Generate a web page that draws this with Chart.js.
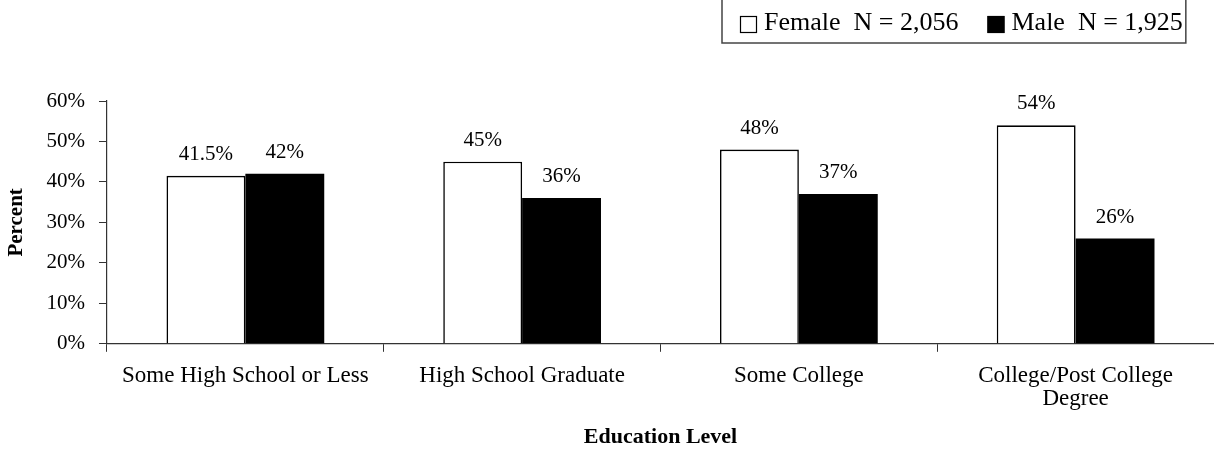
<!DOCTYPE html>
<html>
<head>
<meta charset="utf-8">
<script src="https://cdn.jsdelivr.net/npm/chart.js@4.4.1/dist/chart.umd.min.js"></script>
<style>
  body { margin: 0; background: #fff; }
  #wrap { width: 1214px; height: 464px; }
</style>
</head>
<body>
<div id="wrap"><canvas id="eduChart" width="1214" height="464"></canvas></div>
<script>
const categories = ['Some High School or Less', 'High School Graduate', 'Some College', ['College/Post College', 'Degree']];
const seriesNames = ['Female', 'Male'];
const seriesN = ['2,056', '1,925'];
const femaleValues = [41.5, 45, 48, 54];
const maleValues = [42, 36, 37, 26];
const yTicks = [0, 10, 20, 30, 40, 50, 60];

const serif = '"Liberation Serif", "Times New Roman", serif';

// value labels above each bar
const barLabels = {
  id: 'barLabels',
  afterDatasetsDraw(chart) {
    const ctx = chart.ctx;
    ctx.save();
    ctx.font = '21px ' + serif;
    ctx.fillStyle = '#000';
    ctx.textAlign = 'center';
    ctx.textBaseline = 'alphabetic';
    chart.data.datasets.forEach((ds, i) => {
      chart.getDatasetMeta(i).data.forEach((bar, j) => {
        ctx.fillText(ds.data[j] + '%', bar.x, bar.y - 16);
      });
    });
    ctx.restore();
  }
};

// boxed legend in the top right corner
const boxLegend = {
  id: 'boxLegend',
  afterDraw(chart) {
    const ctx = chart.ctx;
    ctx.save();
    ctx.font = '26px ' + serif;
    ctx.textBaseline = 'alphabetic';
    ctx.fillStyle = '#000';
    let x = 740;
    const sq = 17, sqTop = 16, base = 30;
    chart.data.datasets.forEach((ds, i) => {
      const label = seriesNames[i] + '  N = ' + seriesN[i];
      ctx.fillStyle = ds.backgroundColor;
      ctx.fillRect(x, sqTop, sq, sq);
      ctx.strokeStyle = '#000';
      ctx.lineWidth = 1.2;
      ctx.strokeRect(x + 0.5, sqTop + 0.5, sq - 1, sq - 1);
      x += sq + 7;
      ctx.fillStyle = '#000';
      ctx.fillText(label, x, base);
      x += ctx.measureText(label).width;
      if (i === 0) x += 29;
    });
    ctx.strokeStyle = '#444';
    ctx.lineWidth = 1.5;
    ctx.strokeRect(722, -2, x + 3 - 722, 45);
    ctx.restore();
  }
};

new Chart(document.getElementById('eduChart'), {
  type: 'bar',
  data: {
    labels: categories,
    datasets: [{
      label: seriesNames[0],
      data: femaleValues,
      backgroundColor: '#ffffff',
      borderColor: '#000000',
      borderWidth: 1.6
    }, {
      label: seriesNames[1],
      data: maleValues,
      backgroundColor: '#000000',
      borderColor: '#000000',
      borderWidth: 0
    }]
  },
  options: {
    responsive: false,
    animation: false,
    categoryPercentage: 0.57,
    barPercentage: 1.0,
    layout: { padding: { top: 101, left: 2, right: 0, bottom: 10 } },
    plugins: {
      legend: { display: false },
      tooltip: { enabled: false }
    },
    scales: {
      x: {
        grid: { drawOnChartArea: false, drawTicks: true, tickLength: 8, color: '#333', offset: true },
        border: { display: true, color: '#333', width: 1.2 },
        ticks: {
          color: '#000',
          padding: 13,
          maxRotation: 0,
          autoSkip: false,
          font: { family: serif, size: 23, lineHeight: 1.0 }
        },
        title: {
          display: true,
          text: 'Education Level',
          color: '#000',
          padding: { top: 0, bottom: 3.8 },
          font: { family: serif, size: 22, weight: 'bold' }
        }
      },
      y: {
        min: 0,
        max: 60,
        afterBuildTicks(scale) {
          scale.ticks = yTicks.map(v => ({ value: v }));
        },
        grid: { drawOnChartArea: false, drawTicks: true, tickLength: 8, color: '#333' },
        border: { display: true, color: '#333', width: 1.2 },
        ticks: {
          color: '#000',
          padding: 14,
          callback: v => v + '%',
          font: { family: serif, size: 21 }
        },
        title: {
          display: true,
          text: 'Percent',
          color: '#000',
          padding: { top: 2.4, bottom: 2.9 },
          font: { family: serif, size: 21, weight: 'bold' }
        }
      }
    }
  },
  plugins: [barLabels, boxLegend]
});
</script>
</body>
</html>
